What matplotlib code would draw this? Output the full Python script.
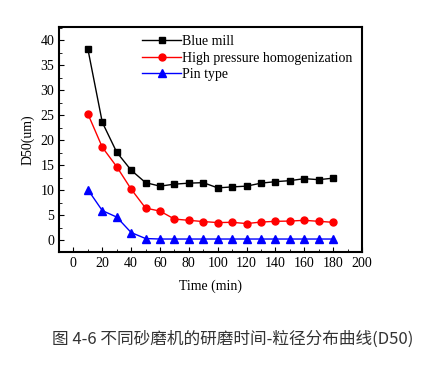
import matplotlib.pyplot as plt
from matplotlib.ticker import MultipleLocator

# time points (min)
time = [10, 20, 30, 40, 50, 60, 70, 80, 90, 100, 110, 120, 130, 140, 150, 160, 170, 180]

# D50 values
blue_mill = [38.3, 23.6, 17.6, 14.0, 11.5, 10.8, 11.2, 11.4, 11.5, 10.45, 10.65, 10.8, 11.4, 11.7, 11.9, 12.3, 12.1, 12.4]
high_pressure = [25.3, 18.6, 14.7, 10.2, 6.4, 5.8, 4.2, 3.95, 3.7, 3.5, 3.55, 3.3, 3.6, 3.75, 3.8, 3.95, 3.75, 3.55]
pin_type = [10.1, 5.9, 4.6, 1.5, 0.3, 0.2, 0.2, 0.2, 0.2, 0.2, 0.2, 0.2, 0.2, 0.2, 0.2, 0.2, 0.2, 0.2]

labels = ["Blue mill", "High pressure homogenization", "Pin type"]
caption = "图 4-6 不同砂磨机的研磨时间-粒径分布曲线(D50)"

plt.rcParams['font.family'] = ['Liberation Serif', 'Noto Sans CJK SC']

fig = plt.figure(figsize=(4.35, 3.77), dpi=100)
ax = fig.add_axes([59 / 435, 1 - 252 / 377, (362 - 59) / 435, (252 - 27) / 377])

ax.plot(time, blue_mill, color="black", marker="s", markersize=5, linewidth=1, label=labels[0])
ax.plot(time, high_pressure, color="red", marker="o", markersize=5, linewidth=1, label=labels[1])
ax.plot(time, pin_type, color="blue", marker="^", markersize=5.5, linewidth=1, label=labels[2])

ax.set_xlim(-10, 200)
ax.set_ylim(-2.4, 42.7)
ax.xaxis.set_major_locator(MultipleLocator(20))
ax.xaxis.set_minor_locator(MultipleLocator(10))
ax.yaxis.set_major_locator(MultipleLocator(5))
ax.yaxis.set_minor_locator(MultipleLocator(2.5))
ax.tick_params(which="both", direction="in", top=False, right=False, labelsize=10)
ax.tick_params(which="major", length=3.5)
ax.tick_params(which="minor", length=2)
for s in ax.spines.values():
    s.set_linewidth(1.5)

ax.set_xlabel("Time (min)", fontsize=10, labelpad=7)
ax.set_ylabel("D50(um)", fontsize=10, labelpad=4)

ax.legend(loc="upper left", bbox_to_anchor=(0.248, 1.0), frameon=False, fontsize=10,
          handlelength=2.8, handletextpad=0.05, labelspacing=0.25, borderaxespad=0.2)

fig.text(0.535, 0.1, caption, ha="center", va="center", fontsize=12,
         family=['Noto Sans CJK SC', 'DejaVu Sans'], color="#333333")

fig.savefig("out.png")
